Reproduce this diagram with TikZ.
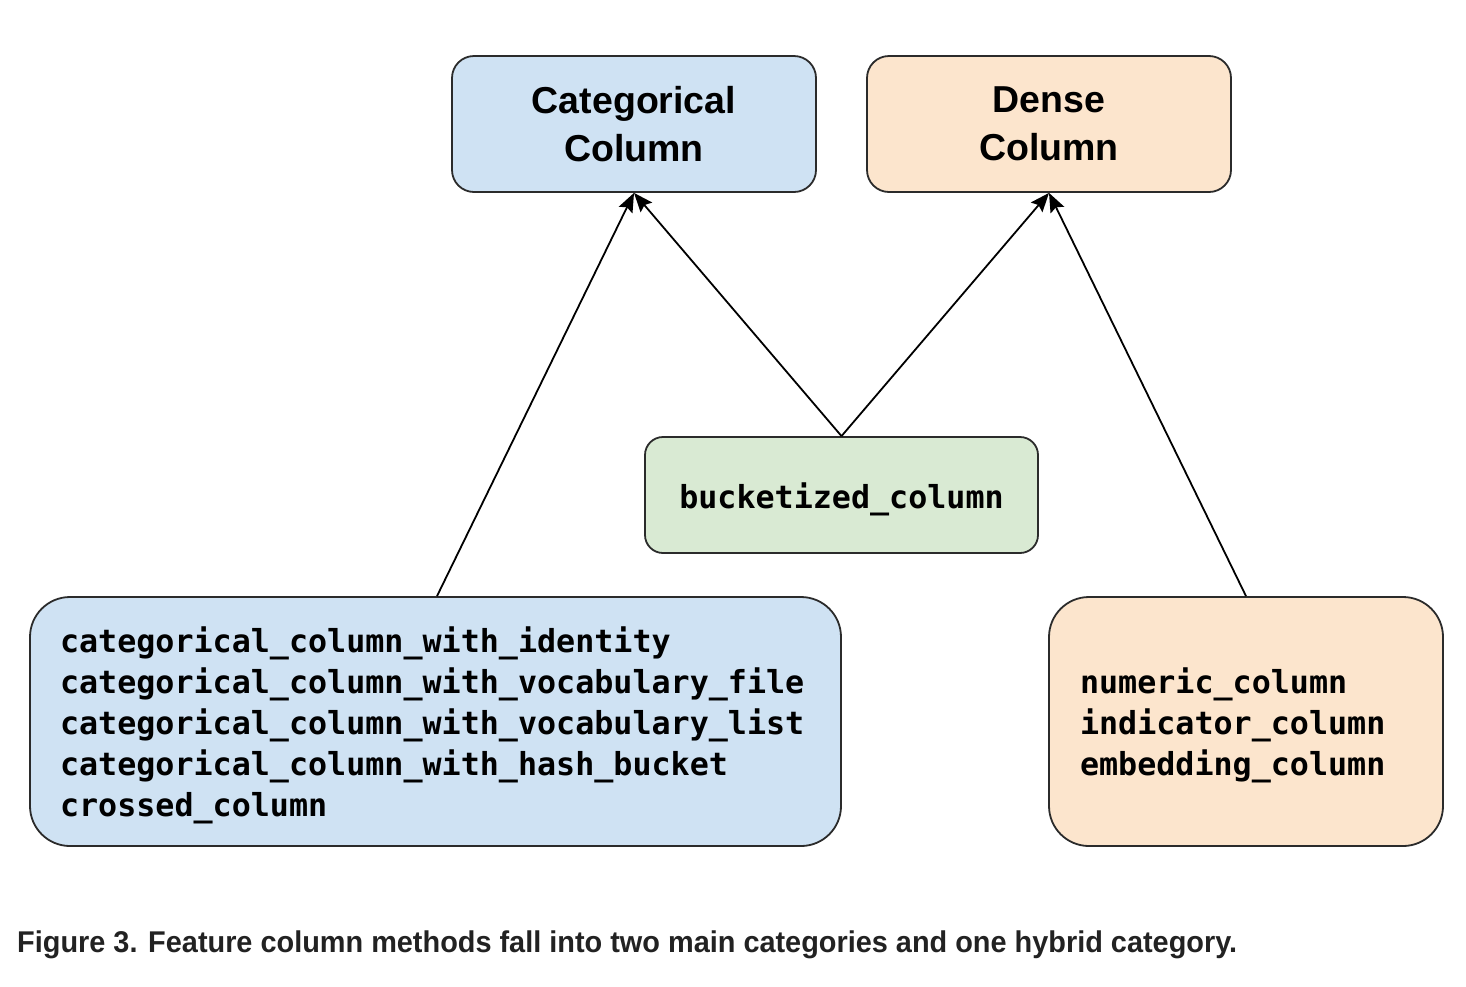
\documentclass[tikz,border=0pt]{standalone}
\usepackage{fontspec}
\usepackage{graphicx}
\usetikzlibrary{arrows.meta}
\setmainfont{Liberation Sans}
\newfontfamily\codefont{DejaVu Sans Mono}
\newfontfamily\headfont{Liberation Sans}

\definecolor{catfill}{HTML}{CFE2F3}
\definecolor{densefill}{HTML}{FCE5CD}
\definecolor{hybridfill}{HTML}{D9EAD3}
\definecolor{edgegray}{HTML}{2B2B2B}
\definecolor{captext}{HTML}{222222}

\newcommand\captiontext{Figure 3. Feature column methods fall into two main categories and one hybrid category.}
% a column of code lines, nudged down (keeping its size) to sit centred in its box
\newcommand\codelines[1]{\raisebox{-5pt}[\height][\depth]{\begin{tabular}{@{}l@{}}#1\end{tabular}}}
\newlength\capwidth

\tikzset{
  box/.style={draw=edgegray, line width=1.8pt, rectangle},
  codetext/.style={font=\codefont\bfseries\fontsize{31.7}{41}\selectfont},
  headbox/.style={box, rounded corners=22pt, minimum width=364pt, minimum height=136pt,
    align=center, font=\headfont\bfseries\fontsize{37.5}{48}\selectfont},
  codebox/.style={box, codetext, rounded corners=40pt, minimum height=249pt, inner ysep=0pt,
    align=left},
  link/.style={line width=1.8pt, draw=black, -{Stealth[length=19pt,width=15pt,inset=3pt]}},
}

\begin{document}
% caption is squeezed horizontally to its set width
\settowidth\capwidth{\bfseries\fontsize{30}{36}\selectfont\captiontext}
\pgfmathsetmacro\capscale{1220/\capwidth}
\begin{tikzpicture}[x=1pt,y=-1pt]
  \useasboundingbox (0,0) rectangle (1466,986);

  % top-level categories
  \node[headbox, fill=catfill]   (cat)   at (634,124)  {Categorical\\Column};
  \node[headbox, fill=densefill] (dense) at (1049,124) {Dense\\Column};

  % hybrid method
  \node[box, codetext, fill=hybridfill, rounded corners=18pt, minimum width=393pt, minimum height=116pt]
    (buck) at (841.5,495) {\raisebox{-4pt}[\height][\depth]{bucketized\_column}};

  % method lists
  \node[codebox, fill=catfill, text width=751pt, inner xsep=30pt] (catlist) at (435.5,721.5)
    {\codelines{categorical\_column\_with\_identity\\
     categorical\_column\_with\_vocabulary\_file\\
     categorical\_column\_with\_vocabulary\_list\\
     categorical\_column\_with\_hash\_bucket\\
     crossed\_column}};
  \node[codebox, fill=densefill, text width=332pt, inner xsep=31pt] (denselist) at (1246,721.5)
    {\codelines{numeric\_column\\
     indicator\_column\\
     embedding\_column}};

  % connectors
  \draw[link] (catlist.north -| 437,0) -- (cat.south);
  \draw[link] (buck.north) -- (cat.south);
  \draw[link] (buck.north) -- (dense.south);
  \draw[link] (denselist.north) -- (dense.south);

  % caption
  \node[anchor=base west, inner sep=0pt, text=captext] (caption) at (17,952)
    {\scalebox{\capscale}[1]{\bfseries\fontsize{30}{36}\selectfont\captiontext}};
\end{tikzpicture}
\end{document}
